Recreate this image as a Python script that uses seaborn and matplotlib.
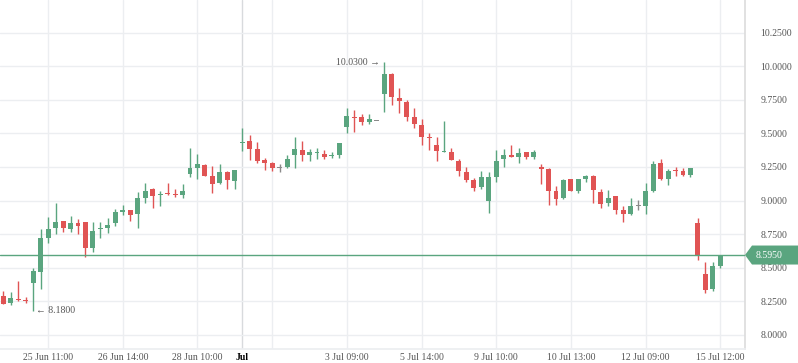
import matplotlib
matplotlib.use("Agg")
import numpy as np
import pandas as pd
import matplotlib.pyplot as plt
from matplotlib.patches import Polygon
import seaborn as sns

# OHLC values, one candle per slot
opens = [8.287, 8.238, 8.266, 8.258, 8.386, 8.468, 8.720, 8.795, 8.851, 8.787,
         8.837, 8.844, 8.646, 8.788, 8.795, 8.832, 8.913, 8.933, 8.899, 9.017,
         9.083, 9.040, 9.052, 9.052, 9.040, 9.195, 9.242, 9.263, 9.180, 9.130,
         9.210, 9.145, 9.430, 9.443, 9.383, 9.300, 9.278, 9.245, 9.248, 9.340,
         9.380, 9.336, 9.355, 9.350, 9.334, 9.338, 9.547, 9.618, 9.620, 9.585,
         9.597, 9.790, 9.940, 9.761, 9.731, 9.619, 9.560, 9.472, 9.410, 9.362,
         9.365, 9.297, 9.216, 9.150, 9.100, 8.998, 9.179, 9.306, 9.338, 9.328,
         9.363, 9.328, 9.245, 9.238, 9.069, 9.020, 9.157, 9.071, 9.159, 9.186,
         9.064, 8.985, 9.035, 8.930, 8.901, 8.963, 8.963, 9.072, 9.280, 9.163,
         9.227, 9.220, 9.193, 8.834, 8.456, 8.340, 8.510]
highs = [8.324, 8.317, 8.401, 8.280, 8.500, 8.790, 8.876, 8.980, 8.851, 8.889,
         8.864, 8.844, 8.839, 8.839, 8.869, 8.938, 8.965, 8.933, 9.064, 9.131,
         9.095, 9.068, 9.128, 9.083, 9.120, 9.390, 9.345, 9.275, 9.255, 9.270,
         9.218, 9.225, 9.540, 9.488, 9.435, 9.318, 9.288, 9.270, 9.338, 9.475,
         9.440, 9.385, 9.395, 9.373, 9.358, 9.425, 9.686, 9.672, 9.647, 9.642,
         9.597, 10.030, 9.948, 9.836, 9.746, 9.686, 9.604, 9.500, 9.470, 9.590,
         9.390, 9.311, 9.252, 9.167, 9.223, 9.216, 9.377, 9.385, 9.412, 9.390,
         9.363, 9.377, 9.272, 9.243, 9.105, 9.164, 9.162, 9.164, 9.194, 9.194,
         9.084, 9.079, 9.035, 8.960, 9.020, 9.003, 9.131, 9.295, 9.309, 9.235,
         9.250, 9.240, 9.243, 8.871, 8.542, 8.545, 8.598]
lows = [8.230, 8.220, 8.255, 8.238, 8.180, 8.342, 8.683, 8.752, 8.765, 8.765,
        8.748, 8.577, 8.616, 8.723, 8.762, 8.809, 8.891, 8.847, 8.795, 8.985,
        8.943, 8.963, 9.040, 9.025, 9.023, 9.175, 9.158, 9.183, 9.055, 9.120,
        9.090, 9.083, 9.370, 9.300, 9.283, 9.225, 9.220, 9.213, 9.240, 9.245,
        9.298, 9.298, 9.308, 9.306, 9.316, 9.316, 9.502, 9.510, 9.560, 9.570,
        9.597, 9.657, 9.709, 9.654, 9.592, 9.537, 9.410, 9.380, 9.298, 9.360,
        9.299, 9.181, 9.135, 9.071, 9.086, 8.907, 9.135, 9.252, 9.328, 9.277,
        9.306, 9.306, 9.123, 8.968, 8.968, 9.015, 9.071, 9.059, 9.140, 8.985,
        8.948, 8.963, 8.903, 8.844, 8.894, 8.931, 8.903, 9.064, 9.156, 9.119,
        9.183, 9.183, 9.178, 8.560, 8.310, 8.325, 8.502]
closes = [8.230, 8.272, 8.261, 8.253, 8.473, 8.725, 8.790, 8.844, 8.795, 8.837,
          8.809, 8.646, 8.777, 8.792, 8.822, 8.918, 8.933, 8.891, 9.022, 9.074,
          9.033, 9.050, 9.048, 9.040, 9.075, 9.240, 9.270, 9.183, 9.123, 9.210,
          9.150, 9.225, 9.435, 9.383, 9.293, 9.278, 9.243, 9.245, 9.308, 9.383,
          9.336, 9.358, 9.360, 9.328, 9.337, 9.425, 9.627, 9.615, 9.585, 9.605,
          9.597, 9.940, 9.769, 9.741, 9.619, 9.567, 9.472, 9.468, 9.366, 9.365,
          9.299, 9.218, 9.152, 9.093, 9.176, 9.176, 9.297, 9.340, 9.328, 9.353,
          9.328, 9.363, 9.240, 9.071, 9.015, 9.150, 9.071, 9.157, 9.181, 9.078,
          8.978, 9.020, 8.933, 8.903, 8.960, 8.963, 9.072, 9.272, 9.163, 9.220,
          9.223, 9.193, 9.243, 8.587, 8.332, 8.515, 8.595]

tick_pos = [6, 16, 26, 32, 36, 46, 56, 66, 76, 86, 96]
tick_labels = ["25 Jun 11:00", "26 Jun 14:00", "28 Jun 10:00", "Jul", "",
               "3 Jul 09:00", "5 Jul 14:00", "9 Jul 10:00", "10 Jul 13:00",
               "12 Jul 09:00", "15 Jul 12:00"]
last_price = 8.595
max_idx, max_label = 51, "10.0300"
min_idx, min_label = 4, "8.1800"

GREEN = "#5aa57f"
RED = "#e05454"
GRAY = "#8a8a8a"
TXT = "#555555"
GRID = "#eceef1"

df = pd.DataFrame({"open": opens, "high": highs, "low": lows, "close": closes})
df["x"] = np.arange(len(df))
df["color"] = np.where(df["close"] > df["open"], GREEN,
                       np.where(df["close"] < df["open"], RED, GRAY))
df["bottom"] = df[["open", "close"]].min(axis=1)
df["height"] = (df["close"] - df["open"]).abs()
thin = df["height"] < 0.008
df.loc[thin, "bottom"] = df.loc[thin, "bottom"] - (0.008 - df.loc[thin, "height"]) / 2
df.loc[thin, "height"] = 0.008

sns.set_theme(style="white")
plt.rcParams["font.family"] = ["Liberation Serif", "DejaVu Serif"]

W, H = 798, 363
fig = plt.figure(figsize=(W / 100, H / 100), dpi=100)
ax = fig.add_axes([0, 14 / H, 745 / W, 349 / H])

ppu = 134.4  # pixels per price unit
ax.set_ylim(8 - 14 / ppu, 8 + 335 / ppu)
ax.set_xlim(-0.44, 99.3)

ax.vlines(df["x"], df["low"], df["high"], colors=df["color"], linewidth=1.0, zorder=3)
ax.bar(df["x"], df["height"], bottom=df["bottom"], width=0.66,
       color=df["color"], linewidth=0, zorder=4)

ax.axhline(last_price, color=GREEN, linewidth=1.0, zorder=5)

# grid
ax.set_xticks(tick_pos)
ax.set_xticklabels(tick_labels)
yt = np.arange(8.0, 10.26, 0.25)
ax.set_yticks(yt)
ax.set_yticklabels([f"{v:.4f}" for v in yt])
ax.yaxis.tick_right()
ax.grid(True, color=GRID, linewidth=1.0, zorder=0)
ax.set_axisbelow(True)
ax.get_xgridlines()[3].set_color("#d8dadd")

ax.tick_params(axis="x", length=0, pad=3, labelsize=7, labelcolor=TXT)
ax.tick_params(axis="y", length=0, pad=11, labelsize=7, labelcolor=TXT)
for lab in ax.get_xticklabels():
    if lab.get_text() == "Jul":
        lab.set_color("black")
        lab.set_fontweight("bold")

for s in ["top", "left"]:
    ax.spines[s].set_visible(False)
ax.spines["right"].set_color("#dddddd")
ax.spines["bottom"].set_color(GRID)

# high / low annotations
ax.annotate(max_label + " \u2192", (max_idx, highs[max_idx]), xytext=(-3, 0),
            textcoords="offset points", ha="right", va="center",
            fontsize=7, color=TXT)
ax.annotate("\u2190 " + min_label, (min_idx, lows[min_idx]), xytext=(2, 0),
            textcoords="offset points", ha="left", va="center",
            fontsize=7, color=TXT)

# last price tag on the right axis
yp = ax.transData.transform((0, last_price))[1]
yf = fig.transFigure.inverted().transform((0, yp))[1]
hh = 9.5 / H
x0 = 745 / W
tag = Polygon([(x0, yf), (x0 + 7 / W, yf + hh), (1.0, yf + hh), (1.0, yf - hh),
               (x0 + 7 / W, yf - hh)], closed=True, transform=fig.transFigure,
              facecolor=GREEN, edgecolor="none", zorder=10)
fig.patches.append(tag)
fig.text(756 / W, yf, f"{last_price:.4f}", color="white", fontsize=7,
         va="center", ha="left", zorder=11)

fig.savefig("out.png", dpi=100)
